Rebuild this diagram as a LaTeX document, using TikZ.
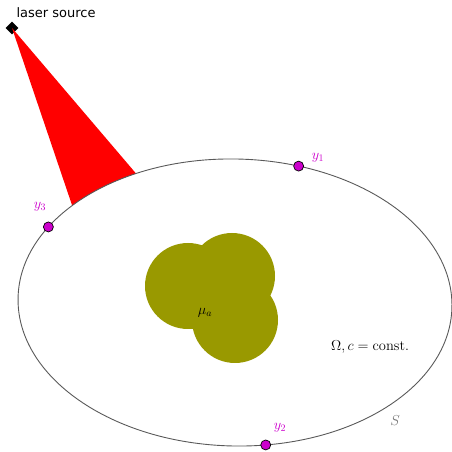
\documentclass[tikz,border=0pt]{standalone}
\usepackage{fontspec}
\setsansfont{DejaVu Sans}
\usetikzlibrary{calc, shapes.geometric}
\definecolor{blob}{RGB}{153,153,0}
\definecolor{sensor}{RGB}{204,0,204}
\tikzset{
  dot/.style={circle, draw=black, line width=0.7pt, fill=sensor, inner sep=0pt, minimum size=10pt},
  lbl/.style={text=sensor, font=\fontsize{14}{16}\selectfont},
  big/.style={font=\fontsize{14.5}{17}\selectfont},
}

\begin{document}
\begin{tikzpicture}[x=1pt,y=1pt]
\useasboundingbox (0,0) rectangle (452,452);
\node[diamond, fill=black, inner sep=0pt, minimum size=13pt] (src) at (12,424) {};
\node[font=\sffamily\fontsize{13}{15}\selectfont] (srclbl) at (56,439) {laser source};
\begin{scope}[shift={(235,149.5)}, rotate=-1.3]
  \coordinate (c) at (0,0);
  \coordinate (p1) at (139.5:217 and 143.5);
  \coordinate (d1) at (73.8:217 and 143.5);
  \coordinate (d2) at (-81:217 and 143.5);
  \coordinate (d3) at (150.2:217 and 143.5);
  \fill[red] (src.center) -- (p1) arc[start angle=139.5, end angle=118, x radius=217, y radius=143.5] -- cycle;
  \draw[black!65, line width=0.9pt] (c) ellipse (217 and 143.5);
\end{scope}
% absorber
\fill[blob] (188,166) circle (43) (232,176) circle (43) (235,132) circle (43);
\node[big] (mu) at (205,139) {$\mu_a$};
\node[big] (omega) at (370,105) {$\Omega, c=\mathrm{const.}$};
\node[big, text=black!55] (S) at (395,31) {$S$};
% detectors
\node[dot] (y1) at (d1) {};
\node[dot] (y2) at (d2) {};
\node[dot] (y3) at (d3) {};
\node[lbl] (y1lbl) at (318,294) {$y_1$};
\node[lbl] (y2lbl) at (280,24) {$y_2$};
\node[lbl] (y3lbl) at (40,245) {$y_3$};
\end{tikzpicture}
\end{document}
